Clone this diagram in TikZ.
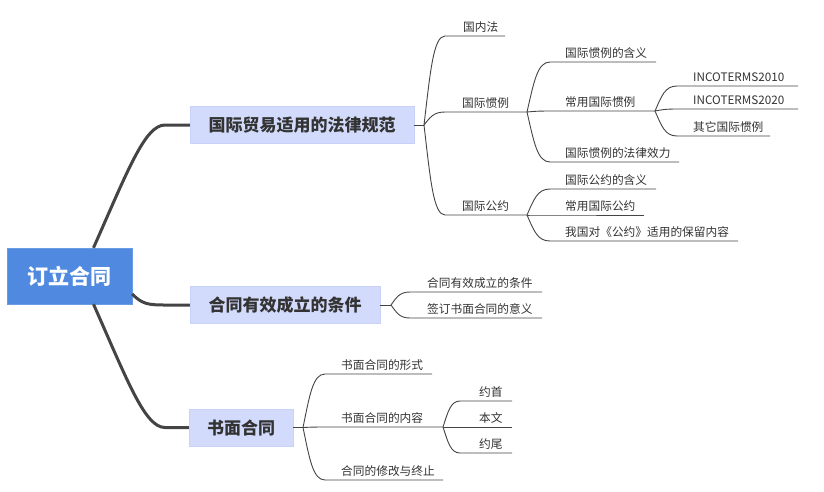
\documentclass[tikz,border=0pt]{standalone}
\usepackage{fontspec}
\setmainfont{Noto Sans CJK SC}
\usetikzlibrary{calc}
\definecolor{rootblue}{HTML}{508AE0}
\definecolor{boxfill}{HTML}{D3DBFC}
\definecolor{boxedge}{HTML}{C8D1F8}
\definecolor{linegray}{HTML}{444444}
\definecolor{txt}{HTML}{333333}
\tikzset{
  rootbox/.style={fill=rootblue, draw=rootblue!85!white, text=white, font=\fontsize{21}{24}\selectfont\bfseries, inner sep=0pt, minimum width=125pt, minimum height=56pt},
  mainbox/.style={fill=boxfill, draw=boxedge, text=txt, font=\fontsize{17}{20}\selectfont\bfseries, inner sep=0pt, minimum height=37pt},
  leaftext/.style={text=txt, font=\fontsize{11.7}{13}\selectfont, inner sep=0pt, anchor=base west},
  trunk/.style={draw=linegray, line width=3pt},
  twig/.style={draw=linegray, line width=0.9pt},
}
\newcommand\mmleaf[7]{%
  \node[leaftext] (#1) at (#4,#6-5) {#7};
  \coordinate (#1s) at (#3,#6);
  \coordinate (#1e) at (#5,#6);
  \draw[twig] let \p1=(#2), \p2=(#1s) in (#2) .. controls ({\x1+0.3*(\x2-\x1)},{\y1+0.6*(\y2-\y1)}) and ({\x1+0.45*(\x2-\x1)},\y2) .. (#1s) -- (#1e);
}
\begin{document}
\begin{tikzpicture}[x=1pt,y=-1pt]
\useasboundingbox[fill=white] (0,0) rectangle (824,491);
% root and main branches
\node[rootbox] (root) at (69.5,276) {订立合同};
\node[mainbox, minimum width=224pt] (b1) at (302,125) {国际贸易适用的法律规范};
\node[mainbox, minimum width=190pt] (b2) at (285,305) {合同有效成立的条件};
\node[mainbox, minimum width=104pt] (b3) at (241,427.5) {书面合同};
\draw[trunk] ([xshift=24pt]root.north) .. controls (128,170) and (145,125) .. (165,125) -- (b1.west);
\draw[trunk] ([yshift=-18pt]root.east) .. controls (142,304) and (148,305) .. (165,305) -- (b2.west);
\draw[trunk] ([xshift=24pt]root.south) .. controls (128,382) and (145,427.5) .. (165,427.5) -- (b3.west);
% branch 1
\coordinate (f1) at (424,125);
\draw[twig] (b1.east) -- (f1);
\mmleaf{gnf}{f1}{445}{463}{505}{36}{国内法}
\mmleaf{gjgl}{f1}{445}{462}{527}{112}{国际惯例}
\mmleaf{gjgy}{f1}{445}{462}{527}{215}{国际公约}
\mmleaf{glhy}{gjgle}{550}{565}{656}{62}{国际惯例的含义}
\mmleaf{cygl}{gjgle}{550}{565}{655}{111}{常用国际惯例}
\mmleaf{glxl}{gjgle}{550}{565}{679}{162}{国际惯例的法律效力}
\mmleaf{ic10}{cygle}{677}{693}{798}{86}{INCOTERMS2010}
\mmleaf{ic20}{cygle}{677}{693}{798}{109}{INCOTERMS2020}
\mmleaf{qtgl}{cygle}{677}{693}{770}{136}{其它国际惯例}
\mmleaf{gyhy}{gjgye}{550}{565}{656}{189}{国际公约的含义}
\mmleaf{cygy}{gjgye}{550}{565}{644}{215}{常用国际公约}
\mmleaf{blnr}{gjgye}{550}{565}{738}{241}{我国对《公约》适用的保留内容}
% branch 2
\coordinate (f2) at (391,305);
\draw[twig] (b2.east) -- (f2);
\mmleaf{yxtj}{f2}{410}{427}{542}{292}{合同有效成立的条件}
\mmleaf{qdyy}{f2}{410}{427}{542}{318}{签订书面合同的意义}
% branch 3
\coordinate (f3) at (303,427.5);
\draw[twig] (b3.east) -- (f3);
\mmleaf{smxs}{f3}{325}{341}{432}{374}{书面合同的形式}
\mmleaf{smnr}{f3}{325}{341}{443}{427}{书面合同的内容}
\mmleaf{xgzz}{f3}{325}{341}{443}{480}{合同的修改与终止}
\mmleaf{ys}{smnre}{460}{479}{512}{401}{约首}
\mmleaf{bw}{smnre}{460}{479}{512}{427}{本文}
\mmleaf{yw}{smnre}{460}{479}{512}{453}{约尾}
\end{tikzpicture}
\end{document}
